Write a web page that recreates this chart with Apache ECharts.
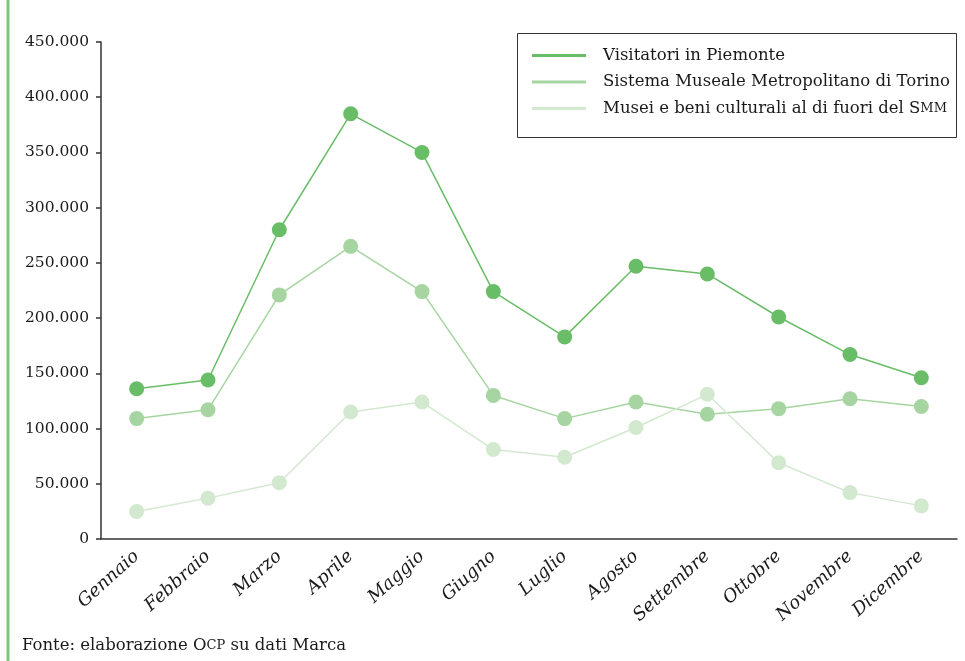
<!DOCTYPE html>
<html>
<head>
<meta charset="utf-8">
<script src="https://cdn.jsdelivr.net/npm/echarts@6/dist/echarts.min.js"></script>
<style>
  html, body { margin: 0; padding: 0; background: #fff; }
  #chart { width: 965px; height: 661px; }
</style>
</head>
<body>
<div id="chart"></div>
<script>
// mesi
const months = ['Gennaio', 'Febbraio', 'Marzo', 'Aprile', 'Maggio', 'Giugno',
  'Luglio', 'Agosto', 'Settembre', 'Ottobre', 'Novembre', 'Dicembre'];
// valori
const piemonte = [136000, 144000, 280000, 385000, 350000, 224000, 183000, 247000, 240000, 201000, 167000, 146000];
const smm = [109000, 117000, 221000, 265000, 224000, 130000, 109000, 124000, 113000, 118000, 127000, 120000];
const fuoriSmm = [25000, 37000, 51000, 115000, 124000, 81000, 74000, 101000, 131000, 69000, 42000, 30000];
const seriesNames = ['Visitatori in Piemonte', 'Sistema Museale Metropolitano di Torino', 'Musei e beni culturali al di fuori del SMM'];
const yTicks = { min: 0, max: 450000, interval: 50000 };

const colors = ['#68bd66', '#a6d5a1', '#d2e9cf'];
const serif = 'DejaVu Serif';

const chart = echarts.init(document.getElementById('chart'));

const fmtThousands = (v) => v === 0 ? '0' : String(v).replace(/\B(?=(\d{3})+(?!\d))/g, '.');

// "SMM" in maiuscoletto
const legendLabel = (n) => {
  const m = n.match(/^(.*S)(MM)$/);
  return m ? '{t|' + m[1] + '}{sc|' + m[2] + '}' : '{t|' + n + '}';
};

const mkSeries = (name, data, color) => ({
  name,
  type: 'line',
  data,
  symbol: 'circle',
  symbolSize: 15,
  lineStyle: { color, width: 1.5 },
  itemStyle: { color },
  emphasis: { disabled: true },
  animation: false
});

chart.setOption({
  textStyle: { fontFamily: serif },
  grid: { left: 101, right: 8, top: 42, bottom: 122 },
  legend: {
    orient: 'vertical',
    left: 527,
    top: 42,
    icon: 'rect',
    itemWidth: 54,
    itemHeight: 3,
    itemGap: 9.5,
    data: seriesNames,
    formatter: legendLabel,
    textStyle: {
      fontFamily: serif,
      fontSize: 16.5,
      color: '#1a1a1a',
      rich: {
        t: { fontFamily: serif, fontSize: 16.5, color: '#1a1a1a', lineHeight: 18, padding: [0, 0, 0, 12] },
        sc: { fontFamily: serif, fontSize: 13, color: '#1a1a1a', lineHeight: 18 }
      }
    }
  },
  xAxis: {
    type: 'category',
    data: months,
    boundaryGap: true,
    axisLine: { lineStyle: { color: '#333', width: 1.5 } },
    axisTick: { length: 5, lineStyle: { color: '#333', width: 1.5 } },
    axisLabel: {
      rotate: 42,
      interval: 0,
      margin: 15,
      fontFamily: serif,
      fontStyle: 'italic',
      fontSize: 18,
      color: '#1a1a1a'
    },
    splitLine: { show: false }
  },
  yAxis: {
    type: 'value',
    min: yTicks.min,
    max: yTicks.max,
    interval: yTicks.interval,
    axisLine: { show: true, lineStyle: { color: '#333', width: 1.5 } },
    axisTick: { show: true, length: 5, lineStyle: { color: '#333', width: 1.5 } },
    axisLabel: {
      formatter: fmtThousands,
      margin: 12,
      fontFamily: serif,
      fontSize: 15.5,
      color: '#1a1a1a'
    },
    splitLine: { show: false }
  },
  graphic: [
    // riquadro legenda
    {
      type: 'rect',
      shape: { x: 517.5, y: 33.5, width: 439, height: 104 },
      style: { fill: 'none', stroke: '#333', lineWidth: 1 },
      z: 1
    },
    // filetto verde a sinistra
    {
      type: 'line',
      shape: { x1: 8, y1: 0, x2: 8, y2: 661 },
      style: { stroke: '#7ac977', lineWidth: 3 }
    },
    {
      type: 'text',
      left: 22,
      top: 637,
      style: {
        text: 'Fonte: elaborazione O{sc|CP} su dati Marca',
        fontFamily: serif,
        fontSize: 16.5,
        fill: '#1a1a1a',
        rich: {
          sc: { fontFamily: serif, fontSize: 13, fill: '#1a1a1a' }
        }
      }
    }
  ],
  series: [
    mkSeries(seriesNames[0], piemonte, colors[0]),
    mkSeries(seriesNames[1], smm, colors[1]),
    mkSeries(seriesNames[2], fuoriSmm, colors[2])
  ]
});
</script>
</body>
</html>
